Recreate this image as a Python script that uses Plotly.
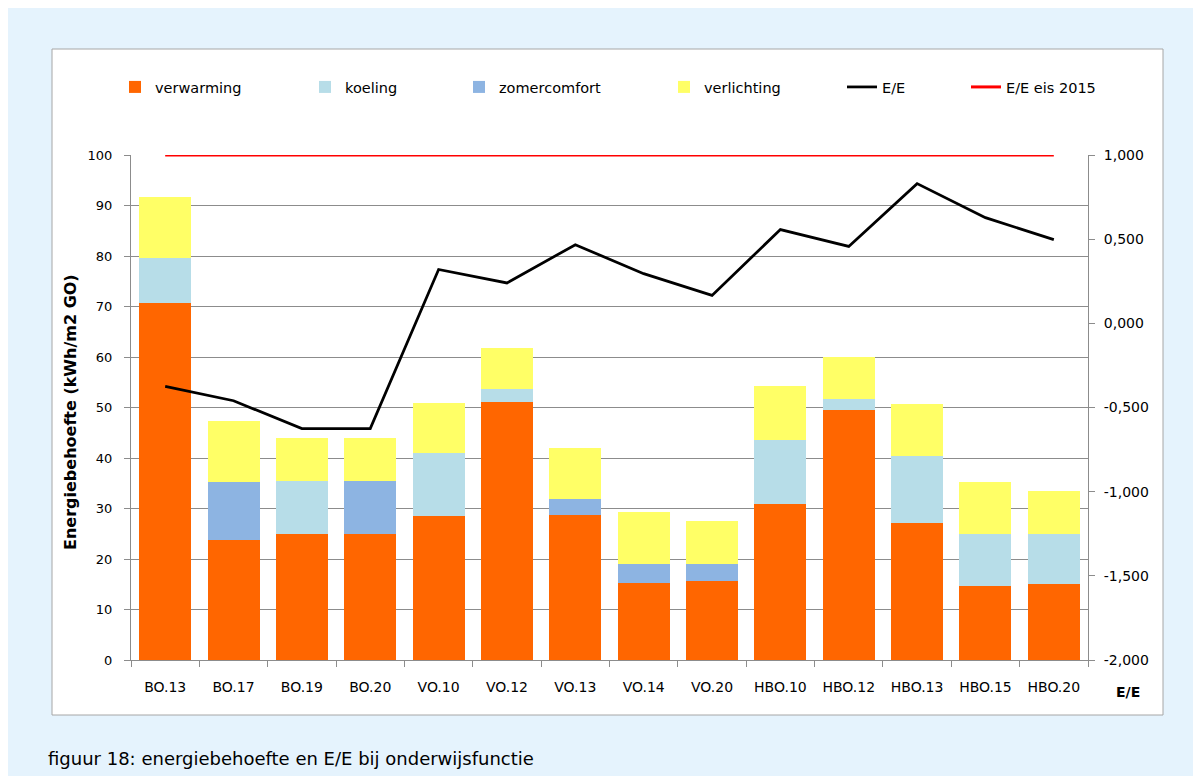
import plotly.graph_objects as go

categories = ["BO.13", "BO.17", "BO.19", "BO.20", "VO.10", "VO.12", "VO.13",
              "VO.14", "VO.20", "HBO.10", "HBO.12", "HBO.13", "HBO.15", "HBO.20"]
verwarming = [70.7, 23.7, 25.0, 25.0, 28.6, 51.1, 28.8, 15.2, 15.6, 30.8, 49.5, 27.2, 14.6, 15.0]
koeling = [8.9, 0.0, 10.5, 0.0, 12.4, 2.5, 0.0, 0.0, 0.0, 12.8, 2.2, 13.2, 10.4, 10.0]
zomercomfort = [0.0, 11.6, 0.0, 10.5, 0.0, 0.0, 3.1, 3.9, 3.5, 0.0, 0.0, 0.0, 0.0, 0.0]
verlichting = [12.0, 12.0, 8.5, 8.5, 9.9, 8.1, 10.1, 10.3, 8.5, 10.6, 8.3, 10.3, 10.3, 8.5]
ee = [-0.374, -0.46, -0.625, -0.625, 0.32, 0.24, 0.467, 0.295, 0.166, 0.557, 0.457, 0.83, 0.628, 0.497]
ee_eis_2015 = [1.0] * len(categories)

y2_tickvals = [-2.0, -1.5, -1.0, -0.5, 0.0, 0.5, 1.0]
y2_ticktext = ["-2,000", "-1,500", "-1,000", "-0,500", "0,000", "0,500", "1,000"]

FONT = "DejaVu Sans"
GRID = "#8C8C8C"

# page geometry: the page body has an 8px margin
OFF = 8
SW, SH = 1201, 776            # screen size
W, H = SW - OFF, SH - OFF     # figure size
L, R, T, B = 131, 1088, 155, 660   # plot area in screen pixels


def px(x):
    return (x - L) / (R - L)


def py(y):
    return (B - y) / (B - T)


fig = go.Figure()
bar_specs = [("verwarming", verwarming, "#FF6600"),
             ("koeling", koeling, "#B7DDE8"),
             ("zomercomfort", zomercomfort, "#8DB4E2"),
             ("verlichting", verlichting, "#FFFF66")]
legend_ids = ["legend", "legend2", "legend3", "legend4", "legend5", "legend6"]
for i, (name, vals, col) in enumerate(bar_specs):
    fig.add_trace(go.Bar(x=categories, y=vals, name=name,
                         marker=dict(color=col, line=dict(width=0)),
                         legend=legend_ids[i], showlegend=True))
fig.add_trace(go.Scatter(x=categories, y=ee, name="E/E", mode="lines",
                         line=dict(color="black", width=2.75), yaxis="y2",
                         legend=legend_ids[4], showlegend=True))
fig.add_trace(go.Scatter(x=categories, y=ee_eis_2015, name="E/E eis 2015", mode="lines",
                         line=dict(color="#FF0000", width=3), yaxis="y2",
                         legend=legend_ids[5], showlegend=True))

legend_text_x = [155, 345, 499, 704, 882, 1006]
legend_common = dict(orientation="h", yanchor="middle", xanchor="left",
                     bgcolor="rgba(0,0,0,0)", font=dict(family=FONT, size=14.5, color="#000"),
                     itemwidth=30)
layout_legends = {}
for lid, tx in zip(legend_ids, legend_text_x):
    layout_legends[lid] = dict(legend_common, x=px(tx - 40), y=py(87))

shapes = [
    # white chart panel
    dict(type="rect", xref="paper", yref="paper", x0=px(52), x1=px(1163), y0=py(715), y1=py(49),
         fillcolor="white", line=dict(color="#A6A6A6", width=1), layer="below"),
]

fig.update_layout(
    width=W, height=H,
    margin=dict(l=L - OFF, r=SW - R, t=T - OFF, b=SH - B),
    paper_bgcolor="#E5F3FD", plot_bgcolor="white",
    barmode="stack", bargap=0.24,
    showlegend=True,
    font=dict(family=FONT, size=13, color="#000"),
    shapes=shapes,
    xaxis=dict(range=[-0.5, len(categories) - 0.5], showline=True, linecolor=GRID, linewidth=1,
               ticks="outside", tickson="boundaries", ticklen=6, tickcolor=GRID,
               tickfont=dict(family=FONT, size=14), ticklabelstandoff=14, showgrid=False),
    yaxis=dict(range=[0, 100], dtick=10, showline=True, linecolor=GRID, linewidth=1,
               ticks="outside", ticklen=6, tickcolor=GRID, showgrid=True, gridcolor=GRID,
               gridwidth=1, zeroline=False, tickfont=dict(family=FONT, size=13),
               ticklabelstandoff=9),
    yaxis2=dict(range=[-2, 1], overlaying="y", side="right", tickvals=y2_tickvals,
                ticktext=y2_ticktext, showline=True, linecolor=GRID, linewidth=1,
                ticks="outside", ticklen=6, tickcolor=GRID, showgrid=False, zeroline=False,
                tickfont=dict(family=FONT, size=14), ticklabelstandoff=6),
    annotations=[
        dict(text="<b>Energiebehoefte (kWh/m2 GO)</b>", xref="paper", yref="paper",
             x=px(70), y=py(412), xanchor="center", yanchor="middle", textangle=-90,
             showarrow=False, font=dict(family=FONT, size=16)),
        dict(text="<b>E/E</b>", xref="paper", yref="paper", x=px(1128), y=py(692),
             xanchor="center", yanchor="middle",
             showarrow=False, font=dict(family=FONT, size=14)),
        dict(text="figuur 18: energiebehoefte en E/E bij onderwijsfunctie", xref="paper",
             yref="paper", x=px(46), y=py(758), xanchor="left", yanchor="middle",
             showarrow=False, font=dict(family=FONT, size=18)),
    ],
    **layout_legends,
)

fig.write_html("out.html")
